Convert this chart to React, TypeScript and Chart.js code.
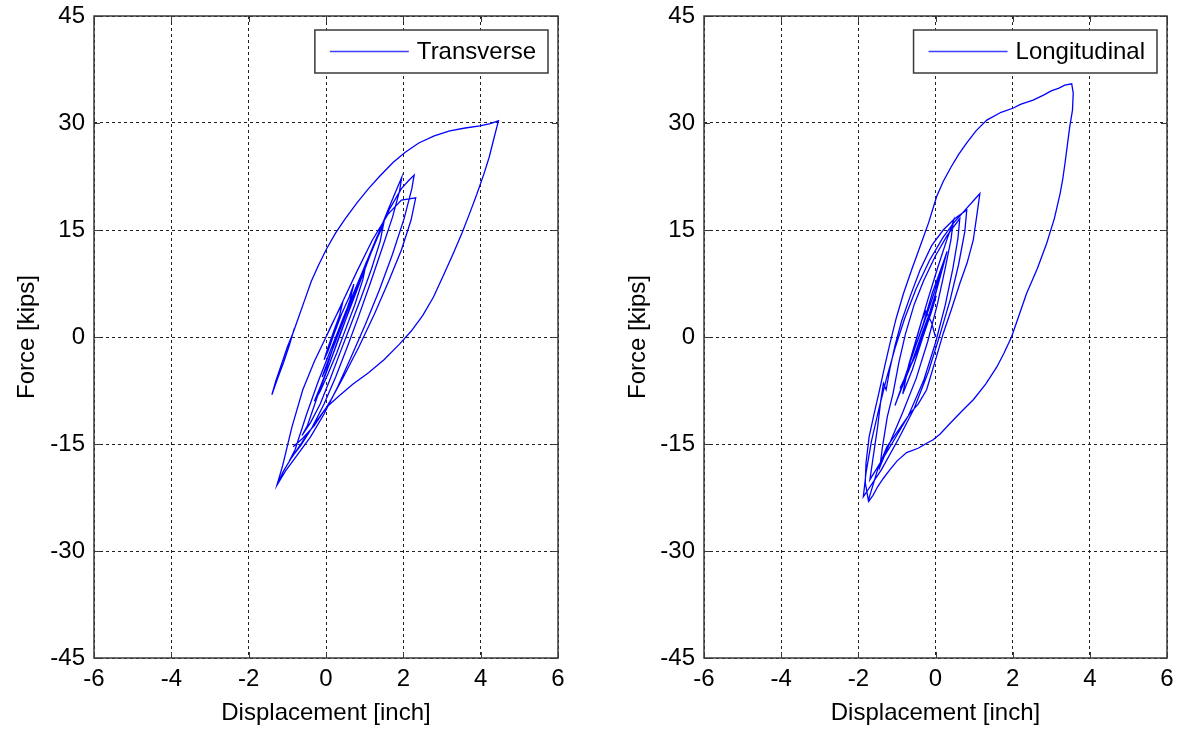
import React, { useEffect, useRef } from "react";
import { Chart, registerables } from "chart.js";

Chart.register(...registerables);

// ---------- data ----------
const xTickValues = [-6, -4, -2, 0, 2, 4, 6];
const yTickValues = [-45, -30, -15, 0, 15, 30, 45];

// Transverse (null = pen lift)
const transverseDisp: (number | null)[] = [
  0, 0.15, 0.3, 0.42, 0.35, 0.2, 0.05, -0.05, 0.05, 0.22, 0.4, 0.6, 0.72, 0.62, 0.45, 0.25,
  0.05, -0.1, 0.02, 0.2, 0.45, 0.7, 0.92, 1.05, 0.95, 0.75, 0.5, 0.28, 0.05, -0.15, -0.3,
  -0.15, 0.1, 0.35, 0.62, 0.9, 1.15, 1.35, 1.48, 1.4, 1.18, 0.9, 0.62, 0.35, 0.1, -0.15,
  -0.4, -0.62, -0.48, -0.2, 0.1, 0.4, 0.72, 1.05, 1.35, 1.62, 1.82, 1.96, 1.9, 1.72, 1.45,
  1.15, 0.85, 0.55, 0.25, -0.05, -0.35, -0.65, -0.88, -0.95, -0.8, -0.5, -0.2, 0.15, 0.5,
  0.9, 1.3, 1.65, 1.95, 2.15, 2.28, 2.22, 2.02, 1.72, 1.38, 1.02, 0.65, 0.3, -0.05, -0.4,
  -0.75, -1.05, -1.27, -1.12, -0.88, -0.6, -0.3, 0.02, 0.4, 0.8, 1.2, 1.6, 1.95, 2.32, 2.2,
  1.95, 1.62, 1.25, 0.85, 0.45, 0.15, 0.02, -0.3, -0.6, -0.85,
  null,
  -0.82, -0.95, -1.1, -1.25, -1.4, -1.3, -1.15, -1.0, -0.85, -0.72, -0.55, -0.38, -0.2,
  0.02, 0.25, 0.5, 0.8, 1.1, 1.4, 1.74, 2.05, 2.4, 2.8, 3.2, 3.6, 3.98, 4.25, 4.46, 4.35,
  4.22, 4.08, 3.9, 3.72, 3.52, 3.3, 3.05, 2.78, 2.5, 2.2, 1.9, 1.5, 1.1, 0.7, 0.35, 0.02,
  -0.3, -0.6, -0.9, -1.1, -1.25,
];
const transverseForce: (number | null)[] = [
  0, 1.8, 3.4, 4.6, 3.0, 0.8, -1.5, -3.2, -2.0, 0.6, 3.2, 5.6, 7.4, 5.2, 2.4, -0.6,
  -3.4, -5.6, -4.2, -1.2, 2.2, 5.8, 8.8, 10.6, 8.0, 4.6, 1.0, -2.2, -5.2, -7.6, -9.0,
  -7.0, -3.6, 0.2, 4.0, 8.0, 11.6, 14.2, 15.6, 13.4, 9.6, 5.4, 1.4, -2.4, -6.0, -9.4,
  -12.0, -13.8, -12.4, -8.0, -3.6, 0.8, 5.6, 10.2, 14.4, 18.0, 20.6, 22.4, 20.4, 16.8, 12.4,
  7.6, 3.0, -1.4, -5.6, -9.4, -12.6, -15.2, -16.8, -17.4, -15.8, -10.8, -6.2, -1.4, 3.4,
  8.6, 13.8, 18.0, 20.8, 22.0, 22.7, 20.8, 16.6, 11.6, 6.6, 1.8, -2.8, -7.0, -10.8, -14.0,
  -16.6, -18.8, -20.8, -18.0, -12.6, -7.4, -3.4, 0.2, 4.6, 9.2, 13.6, 17.2, 19.2, 19.5, 16.4,
  12.2, 7.8, 3.2, -1.4, -5.6, -8.6, -9.8, -12.4, -14.2, -15.4,
  null,
  1.2, -1.2, -3.6, -5.8, -8.1, -6.2, -3.8, -1.4, 0.6, 2.6, 5.2, 7.8, 10.0,
  12.4, 14.6, 16.6, 18.8, 20.8, 22.6, 24.5, 25.9, 27.2, 28.2, 28.9, 29.3, 29.6, 29.9, 30.3, 28.0,
  25.2, 22.8, 20.0, 17.4, 14.6, 11.8, 8.8, 5.6, 3.0, 0.8, -1.0, -3.2, -5.0, -6.6, -8.2, -9.8,
  -12.2, -14.6, -17.0, -18.8, -20.5,
];

// Longitudinal
const longitudinalDisp: number[] = [
  // small cycles
  0, -0.1, -0.25, -0.35, -0.5, -0.62, -0.72, -0.6, -0.42, -0.22, -0.05, 0.02, -0.1, -0.3,
  -0.52, -0.78, -0.92, -0.8, -0.58, -0.35, -0.12, 0.05, 0.15, 0.02, -0.22, -0.45, -0.7,
  -0.98, -1.05, -0.88, -0.6, -0.32, -0.08, 0.2, 0.3, 0.12, -0.1, -0.35, -0.6, -0.85,
  // C1
  -0.7, -0.45, -0.2, 0.05, 0.28, 0.46, 0.4, 0.25, 0.05, -0.2, -0.5, -0.85, -1.15, -1.44,
  // C2
  -1.38, -1.25, -1.1, -0.95, -0.78, -0.55, -0.3, 0.0, 0.3, 0.63, 0.58, 0.45, 0.25, 0.0,
  -0.3, -0.7, -1.2, -1.7,
  // C3
  -1.62, -1.5, -1.42, -1.35, -1.28, -1.18, -1.05, -0.88, -0.65, -0.4, -0.1, 0.2, 0.5, 0.81,
  0.76, 0.6, 0.38, 0.12, -0.18, -0.55, -0.95, -1.4, -1.87,
  // C4
  -1.8, -1.66, -1.48, -1.28, -1.05, -0.8, -0.5, -0.15, 0.2, 0.5, 0.8, 1.0, 1.15, 1.08, 0.98,
  0.82, 0.63, 0.42, 0.2, -0.02, -0.23, -0.45, -0.66, -0.95, -1.26, -1.5, -1.74,
  // big cycle
  -1.82, -1.8, -1.72, -1.6, -1.45, -1.32, -1.18, -1.02, -0.83, -0.62, -0.4, -0.18, 0.03, 0.2,
  0.4, 0.6, 0.81, 1.05, 1.33, 1.7, 2.02, 2.2, 2.53, 2.8, 3.0, 3.2, 3.35, 3.53, 3.57, 3.55,
  3.48, 3.42, 3.36, 3.3, 3.23, 3.08, 2.88, 2.64, 2.36, 2.15, 1.97, 1.78, 1.59, 1.3, 0.98,
  0.68, 0.38, 0.12, -0.06, -0.23, -0.45, -0.75, -1.0, -1.18, -1.35, -1.5, -1.62, -1.74,
];
const longitudinalForce: number[] = [
  // small cycles
  0, 2.0, 3.6, 2.4, -0.4, -2.8, -4.6, -3.4, -0.6, 2.4, 4.8, 5.8, 3.6, 0.4,
  -2.6, -5.6, -7.2, -5.8, -2.2, 1.2, 4.8, 7.6, 9.2, 6.4, 2.2, -1.4, -4.8,
  -8.6, -9.6, -7.0, -2.6, 1.8, 6.2, 10.4, 12.0, 8.4, 4.0, -0.4, -4.6, -8.0,
  // C1
  -4.0, 0.6, 5.2, 9.6, 13.4, 16.2, 13.6, 9.6, 4.6, -0.6, -5.8, -10.6, -14.4, -18.2,
  // C2
  -15.6, -11.2, -7.9, -3.6, 0.4, 4.6, 8.0, 11.4, 14.2, 16.6, 13.8, 9.6, 4.4, -0.8,
  -6.0, -11.0, -15.6, -20.0,
  // C3
  -17.0, -12.6, -9.0, -6.5, -7.4, -4.4, -1.2, 2.2, 5.8, 9.4, 12.8, 15.0, 16.6, 17.8,
  14.8, 10.2, 5.2, 0.4, -4.8, -10.0, -14.2, -18.6, -22.4,
  // C4
  -19.0, -14.6, -10.4, -6.0, -1.6, 2.6, 6.8, 10.8, 14.0, 16.2, 18.0, 19.2, 20.1, 17.4, 13.6,
  10.4, 7.5, 4.0, 0.5, -3.6, -7.4, -9.4, -10.7, -13.0, -15.4, -18.6, -22.9,
  // big cycle
  -20.4, -17.6, -14.0, -11.0, -7.4, -4.2, -0.9, 2.6, 6.1, 9.4, 12.7, 16.0, 19.7, 21.8,
  23.8, 25.6, 27.2, 28.9, 30.4, 31.5, 32.1, 32.6, 33.2, 33.9, 34.5, 34.9, 35.3, 35.5, 34.2, 31.8,
  29.5, 27.0, 24.5, 22.2, 20.1, 16.6, 13.1, 9.6, 6.1, 2.8, 0, -2.2, -4.2, -6.6, -8.8,
  -10.4, -12.1, -13.6, -14.4, -14.9, -15.6, -16.2, -17.4, -18.6, -19.8, -21.0, -22.2, -23.1,
];

const FONT_FAMILY = 'Arial, "Liberation Sans", sans-serif';
const LINE_BLUE = "#0000ff";
const FRAME = "#3a3a3a";

const framePlugin = {
  id: "frame",
  afterDraw(chart: any, _args: any, opts: any) {
    const { ctx, chartArea } = chart;
    const { left, right, top, bottom } = chartArea;
    const xs = chart.scales.x;
    const ys = chart.scales.y;
    ctx.save();
    ctx.setLineDash([]);
    ctx.strokeStyle = FRAME;
    ctx.lineWidth = 1.5;
    ctx.strokeRect(left, top, right - left, bottom - top);
    ctx.lineWidth = 1;
    ctx.beginPath();
    for (const v of xTickValues) {
      const px = Math.round(xs.getPixelForValue(v)) + 0.5;
      ctx.moveTo(px, bottom);
      ctx.lineTo(px, bottom - 6);
      ctx.moveTo(px, top);
      ctx.lineTo(px, top + 6);
    }
    for (const v of yTickValues) {
      const py = Math.round(ys.getPixelForValue(v)) + 0.5;
      ctx.moveTo(left, py);
      ctx.lineTo(left + 6, py);
      ctx.moveTo(right, py);
      ctx.lineTo(right - 6, py);
    }
    ctx.stroke();

    // legend
    const label: string = opts.label;
    ctx.font = `24px ${FONT_FAMILY}`;
    const tw = ctx.measureText(label).width;
    const boxW = 15 + 79 + 8 + tw + 12;
    const boxH = 43;
    const bx = right - 10 - boxW;
    const by = top + 14;
    ctx.fillStyle = "#ffffff";
    ctx.fillRect(bx, by, boxW, boxH);
    ctx.strokeStyle = FRAME;
    ctx.lineWidth = 1.5;
    ctx.strokeRect(bx, by, boxW, boxH);
    ctx.strokeStyle = "#3f3fff";
    ctx.lineWidth = 1.3;
    ctx.beginPath();
    ctx.moveTo(bx + 15, by + boxH / 2);
    ctx.lineTo(bx + 15 + 79, by + boxH / 2);
    ctx.stroke();
    ctx.fillStyle = "#000000";
    ctx.textBaseline = "middle";
    ctx.textAlign = "left";
    ctx.fillText(label, bx + 15 + 79 + 8, by + boxH / 2 + 1);
    ctx.restore();
  },
};

function Panel(props: {
  label: string;
  xs: (number | null)[];
  ys: (number | null)[];
  left: number;
  axisWidth: number;
  titlePad: number;
  padRight: number;
}) {
  const ref = useRef<HTMLCanvasElement | null>(null);
  useEffect(() => {
    if (!ref.current) return;
    const font = { family: FONT_FAMILY, size: 24 };
    const points = props.xs.map((x, i) => ({
      x: x === null ? NaN : x,
      y: props.ys[i] === null ? NaN : (props.ys[i] as number),
    }));
    const chart = new Chart(ref.current, {
      type: "scatter",
      data: {
        datasets: [
          {
            label: props.label,
            data: points,
            showLine: true,
            spanGaps: false,
            borderColor: LINE_BLUE,
            backgroundColor: LINE_BLUE,
            borderWidth: 1.3,
            pointRadius: 0,
            tension: 0,
          } as any,
        ],
      },
      options: {
        animation: false,
        responsive: false,
        devicePixelRatio: 1,
        layout: { padding: { left: 0, right: props.padRight, top: 16, bottom: 0 } },
        plugins: {
          legend: { display: false },
          tooltip: { enabled: false },
          frame: { label: props.label },
        } as any,
        scales: {
          x: {
            type: "linear",
            min: -6,
            max: 6,
            afterBuildTicks: (s: any) => {
              s.ticks = xTickValues.map((v) => ({ value: v }));
            },
            ticks: { font, color: "#000", padding: 7, maxRotation: 0, autoSkip: false },
            grid: { color: "#202020", lineWidth: 1, drawTicks: false },
            border: { display: false, dash: [3, 3] },
            title: {
              display: true,
              text: "Displacement [inch]",
              font,
              color: "#000",
              padding: { top: 0, bottom: 3 },
            },
            afterFit: (s: any) => {
              s.height = 73;
              s.paddingLeft = 0;
              s.paddingRight = 0;
            },
          },
          y: {
            type: "linear",
            min: -45,
            max: 45,
            afterBuildTicks: (s: any) => {
              s.ticks = yTickValues.map((v) => ({ value: v }));
            },
            ticks: { font, color: "#000", padding: 9, autoSkip: false },
            grid: { color: "#202020", lineWidth: 1, drawTicks: false },
            border: { display: false, dash: [3, 3] },
            title: {
              display: true,
              text: "Force [kips]",
              font,
              color: "#000",
              padding: { top: props.titlePad, bottom: 0 },
            },
            afterFit: (s: any) => {
              s.width = props.axisWidth;
              s.paddingTop = 0;
              s.paddingBottom = 0;
            },
          },
        },
      } as any,
      plugins: [framePlugin],
    });
    return () => chart.destroy();
  }, []);
  return (
    <canvas
      ref={ref}
      width={591}
      height={731}
      style={{ position: "absolute", left: props.left, top: 0, width: 591, height: 731, display: "block" }}
    />
  );
}

export default function App() {
  useEffect(() => {
    document.body.style.margin = "0";
  }, []);
  return (
    <div style={{ position: "absolute", left: 0, top: 0, width: 1182, height: 731, background: "#fff" }}>
      <Panel
        label="Transverse"
        xs={transverseDisp}
        ys={transverseForce}
        left={0}
        axisWidth={94}
        titlePad={13}
        padRight={33}
      />
      <Panel
        label="Longitudinal"
        xs={longitudinalDisp}
        ys={longitudinalForce}
        left={591}
        axisWidth={113}
        titlePad={33}
        padRight={15}
      />
    </div>
  );
}
